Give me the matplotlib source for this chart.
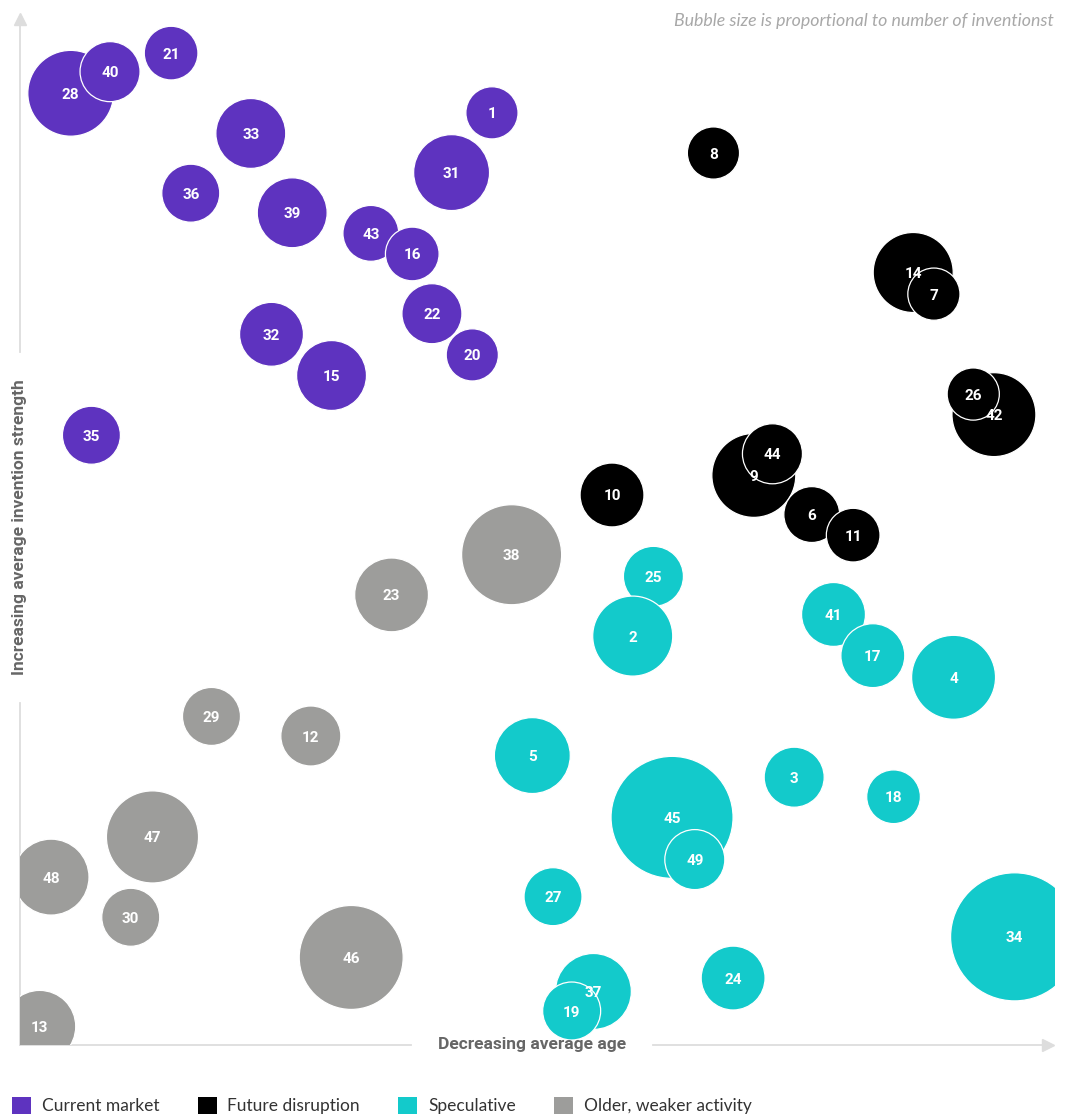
import matplotlib
matplotlib.use("Agg")
import matplotlib.pyplot as plt
from matplotlib.patches import Patch
import numpy as np

plt.rcParams['font.family'] = ['Lato', 'DejaVu Sans']

# ---- data (x: decreasing average age, y: increasing invention strength, 0-100 scale) ----
categories = ["Current market", "Future disruption", "Speculative", "Older, weaker activity"]
colors = ["#5E33BF", "#000000", "#13CACB", "#9D9D9B"]

current_ids = [28, 40, 21, 33, 1, 31, 36, 39, 43, 16, 22, 32, 20, 15, 35]
current_x = [4.9, 8.7, 14.6, 22.3, 45.6, 41.7, 16.5, 26.3, 33.9, 37.9, 39.8, 24.3, 43.7, 30.1, 6.9]
current_y = [92.4, 94.5, 96.3, 88.5, 90.5, 84.7, 82.7, 80.8, 78.8, 76.8, 71.0, 69.0, 67.0, 65.0, 59.2]
current_inv = [92, 45, 36, 61, 34, 72, 42, 61, 39, 36, 45, 51, 34, 61, 42]

future_ids = [8, 14, 7, 42, 26, 10, 9, 44, 6, 11]
future_x = [67.0, 86.3, 88.3, 94.1, 92.1, 57.2, 70.9, 72.7, 76.5, 80.5]
future_y = [86.6, 75.0, 72.9, 61.2, 63.2, 53.4, 55.3, 57.4, 51.5, 49.5]
future_inv = [34, 80, 34, 88, 34, 51, 88, 45, 39, 36]

spec_ids = [25, 2, 41, 17, 4, 5, 3, 18, 45, 49, 27, 34, 24, 37, 19]
spec_x = [61.2, 59.2, 78.6, 82.4, 90.2, 49.5, 74.8, 84.4, 63.0, 65.2, 51.5, 96.1, 68.9, 55.4, 53.3]
spec_y = [45.5, 39.7, 41.8, 37.8, 35.7, 28.1, 26.0, 24.1, 22.1, 18.0, 14.4, 10.5, 6.5, 5.2, 3.3]
spec_inv = [45, 80, 51, 51, 88, 72, 45, 36, 186, 45, 42, 205, 51, 72, 42]

older_ids = [38, 23, 29, 12, 47, 48, 30, 46, 13]
older_x = [47.5, 35.9, 18.5, 28.1, 12.8, 3.0, 10.7, 32.0, 1.9]
older_y = [47.6, 43.7, 31.9, 30.0, 20.2, 16.3, 12.4, 8.5, 1.8]
older_inv = [125, 68, 42, 45, 106, 72, 42, 135, 65]

groups = [
    (current_ids, current_x, current_y, current_inv),
    (future_ids, future_x, future_y, future_inv),
    (spec_ids, spec_x, spec_y, spec_inv),
    (older_ids, older_x, older_y, older_inv),
]

W, H = 1072, 1117
fig = plt.figure(figsize=(W / 100, H / 100), dpi=100)
ax = fig.add_axes([20 / W, 72 / H, 1035 / W, 1030 / H])
ax.set_xlim(0, 100)
ax.set_ylim(0, 100)
ax.axis("off")

num_font = ['Roboto', 'DejaVu Sans']
SIZE_K = 41.5  # marker area (pt^2) per invention unit
for (ids, xs, ys, inv), col in zip(groups, colors):
    s = np.array(inv) * SIZE_K
    ax.scatter(xs, ys, s=s, c=col, edgecolors="white", linewidths=0.9, zorder=2)
    for i, x, y in zip(ids, xs, ys):
        ax.text(x, y, str(i), color="white", fontsize=11, fontweight="bold",
                family=num_font, ha="center", va="center_baseline", zorder=3)

# ---- axes lines with gaps for labels ----
axis_col = "#DDDDDD"
tr = ax.transAxes
ax.plot([0, 0.378], [0, 0], color=axis_col, lw=1.3, transform=tr, clip_on=False, zorder=1)
ax.plot([0.612, 0.992], [0, 0], color=axis_col, lw=1.3, transform=tr, clip_on=False, zorder=1)
ax.plot([0.993], [0], marker=">", ms=9, color=axis_col, mec=axis_col, transform=tr, clip_on=False)
ax.plot([0, 0], [0, 0.332], color=axis_col, lw=1.3, transform=tr, clip_on=False, zorder=1)
ax.plot([0, 0], [0.673, 0.995], color=axis_col, lw=1.3, transform=tr, clip_on=False, zorder=1)
ax.plot([0], [0.996], marker="^", ms=9, color=axis_col, mec=axis_col, transform=tr, clip_on=False)

ax.text(0.4947, 0, "Decreasing average age", transform=tr, ha="center", va="center",
        fontsize=12.5, fontweight="bold", family=num_font, color="#666666")
ax.text(0, 0.503, "Increasing average invention strength", transform=tr, ha="center",
        va="center", rotation=90, fontsize=12.5, fontweight="bold", family=num_font,
        color="#666666")

fig.text(1054 / W, 1 - 21 / H, "Bubble size is proportional to number of inventionst",
         ha="right", va="center", fontsize=12.8, style="italic",
         color="#A8A8A8")

handles = [Patch(facecolor=c, edgecolor="none", label=l) for c, l in zip(colors, categories)]
fig.legend(handles=handles, loc="upper left", bbox_to_anchor=(12 / W, 1 - 1097 / H),
           ncol=4, frameon=False, fontsize=12.5, handlelength=1.1, handleheight=1.1,
           handletextpad=0.62, columnspacing=2.2, borderpad=0, borderaxespad=0,
           labelcolor="#333333")

fig.savefig("out.png", dpi=100, facecolor="white")
